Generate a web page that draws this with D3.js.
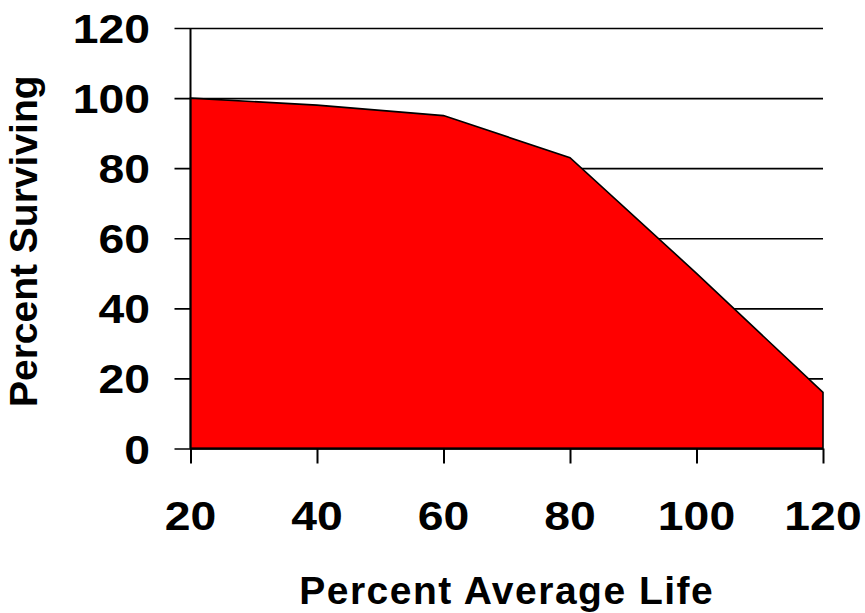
<!DOCTYPE html>
<html>
<head>
<meta charset="utf-8">
<script src="https://cdn.jsdelivr.net/npm/d3@7"></script>
<style>
  html, body { margin: 0; padding: 0; background: #ffffff; }
  svg { display: block; }
  text { font-family: "Liberation Sans", Arial, sans-serif; font-weight: bold; fill: #000; }
</style>
</head>
<body>
<svg id="chart" width="865" height="613"></svg>
<script>
// ---- data ----
const lifePercent = [20, 40, 60, 80, 100, 120];
const survivingPercent = [100, 98, 95, 83, 50, 16];
const xTickValues = [20, 40, 60, 80, 100, 120];
const yTickValues = [0, 20, 40, 60, 80, 100, 120];
const xTitle = "Percent Average Life";
const yTitle = "Percent Surviving";

const svg = d3.select("#chart");
const plotLeft = 190.5, plotRight = 823, plotTop = 28, plotBottom = 448.5;

const x = d3.scaleLinear().domain([20, 120]).range([plotLeft, plotRight]);
const y = d3.scaleLinear().domain([0, 120]).range([plotBottom, plotTop]);

const data = lifePercent.map((d, i) => ({ x: d, y: survivingPercent[i] }));

// gridlines + y ticks (left)
const yAxis = d3.axisLeft(y)
  .tickValues(yTickValues)
  .tickSize(-(plotRight - plotLeft))
  .tickFormat("");
const gy = svg.append("g")
  .attr("transform", `translate(${plotLeft},0)`)
  .call(yAxis);
gy.select(".domain").remove();
gy.selectAll(".tick line")
  .attr("x1", -16)
  .attr("stroke", "#000")
  .attr("stroke-width", 1.6);

// area
const area = d3.area()
  .x(d => x(d.x))
  .y0(y(0))
  .y1(d => y(d.y));
svg.append("path")
  .datum(data)
  .attr("d", area)
  .attr("fill", "#ff0000")
  .attr("stroke", "#000")
  .attr("stroke-width", 1.6)
  .attr("stroke-linejoin", "miter");

// y axis line
svg.append("line")
  .attr("x1", plotLeft).attr("x2", plotLeft)
  .attr("y1", plotTop).attr("y2", plotBottom)
  .attr("stroke", "#000").attr("stroke-width", 2);

// x axis
const xAxis = d3.axisBottom(x)
  .tickValues(xTickValues)
  .tickSize(15)
  .tickFormat("");
const gx = svg.append("g")
  .attr("transform", `translate(0,${plotBottom})`)
  .call(xAxis);
gx.select(".domain")
  .attr("d", `M${plotLeft},0H${plotRight}`)
  .attr("stroke", "#000")
  .attr("stroke-width", 2.2);
gx.selectAll(".tick line").attr("stroke", "#000").attr("stroke-width", 2);

const sx = 1.13;
// y tick labels
svg.append("g").selectAll("text")
  .data(yTickValues)
  .join("text")
  .attr("transform", d => `translate(150,${y(d) + 15}) scale(${sx},1)`)
  .attr("text-anchor", "end")
  .attr("font-size", 41)
  .text(d => d);

// x tick labels
svg.append("g").selectAll("text")
  .data(xTickValues)
  .join("text")
  .attr("transform", d => `translate(${x(d)},530) scale(${sx},1)`)
  .attr("text-anchor", "middle")
  .attr("font-size", 41)
  .text(d => d);

// titles
svg.append("text")
  .attr("x", (plotLeft + plotRight) / 2)
  .attr("y", 604)
  .attr("text-anchor", "middle")
  .attr("font-size", 39)
  .attr("letter-spacing", 1.5)
  .text(xTitle);

svg.append("text")
  .attr("transform", `translate(37,${(plotTop + plotBottom) / 2 + 3}) rotate(-90)`)
  .attr("text-anchor", "middle")
  .attr("font-size", 39)
  .text(yTitle);
</script>
</body>
</html>
